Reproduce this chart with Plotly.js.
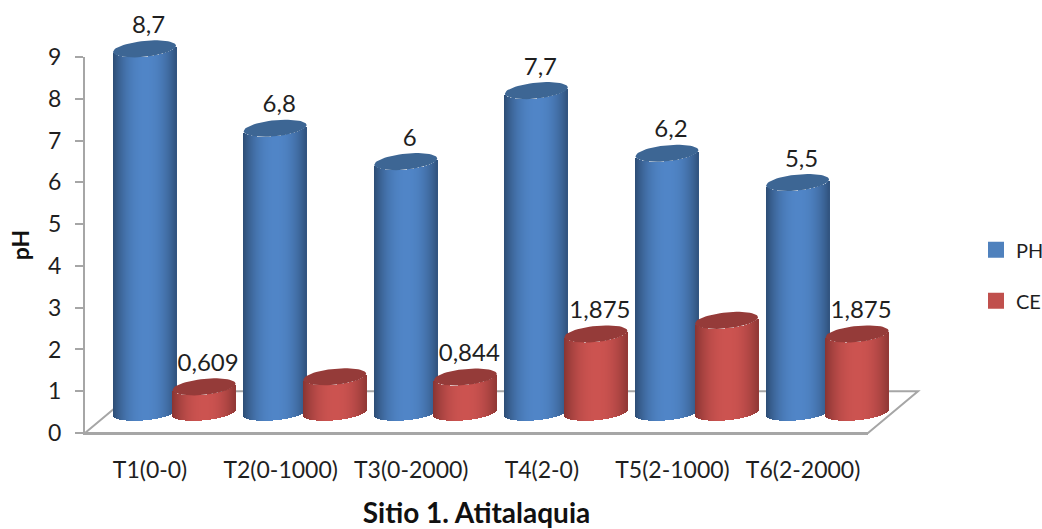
<!DOCTYPE html>
<html>
<head>
<meta charset="utf-8">
<script src="https://cdn.plot.ly/plotly-3.0.1.min.js"></script>
<style>html,body{margin:0;padding:0;background:#fff}</style>
</head>
<body>
<div id="chart" style="width:1042px;height:529px"></div>
<script>
// Soil pH and electrical conductivity by treatment
const categories = ['T1(0-0)', 'T2(0-1000)', 'T3(0-2000)', 'T4(2-0)', 'T5(2-1000)', 'T6(2-2000)'];
const phValues = [8.7, 6.8, 6, 7.7, 6.2, 5.5];
const ceValues = [0.609, 0.85, 0.844, 1.875, 2.2, 1.875];
const phLabelled = [true, true, true, true, true, true];
const ceLabelled = [true, false, true, true, false, true];
const yTicks = [0, 1, 2, 3, 4, 5, 6, 7, 8, 9];

// Frame in pixels. The visible axes span the inner box; the marks live on hidden
// axes with the same scale and a larger box, since the 3D effect overflows the axes.
const W = 1042, H = 529;
const M = {l: 85, r: 112, t: 10, b: 96.3, autoexpand: false};
const plotW = W - M.l - M.r, plotH = H - M.t - M.b;
const axisW = 783, axisH = 375.7;
const xRange = [-0.685, 5.31];
const yMax = 9;
const pxPerX = axisW / (xRange[1] - xRange[0]);
const pxPerY = axisH / yMax;
const markXRange = [xRange[0], xRange[0] + plotW / pxPerX];
const markYRange = [0, plotH / pxPerY];

// Cylinder geometry
const halfWidth = 31.5 / pxPerX;
const lift = 20.7 / pxPerY;        // floor depth: cylinders stand behind the front edge
const tilt = 3 / pxPerY;           // ellipse slant
const minor = 8 / pxPerY;          // ellipse half height
const strips = 63;
const seriesOffset = {ph: -0.229, ce: 0.227};

const hex = c => [1, 3, 5].map(i => parseInt(c.substr(i, 2), 16));
function mix(a, b, t) {
  const A = hex(a), B = hex(b);
  return 'rgb(' + A.map((v, i) => Math.round(v + (B[i] - v) * t)).join(',') + ')';
}

// One cylinder side, as a run of thin bars following the front arcs of both rims
function cylinderTrace(values, offset, light, dark, name) {
  const xs = [], bases = [], heights = [], colors = [], widths = [];
  values.forEach((v, i) => {
    for (let j = 0; j < strips; j++) {
      const u = (j + 0.5) / strips * 2 - 1;
      const arc = tilt * u - minor * Math.sqrt(1 - u * u);
      xs.push(i + offset + u * halfWidth);
      bases.push(lift + arc);
      heights.push(v);
      widths.push(2 * halfWidth / strips);
      colors.push(mix(light, dark, Math.pow(Math.abs(u - 0.03) / 1.03, 2.2)));
    }
  });
  return {
    type: 'bar', x: xs, y: heights, base: bases, width: widths, name: name,
    xaxis: 'x2', yaxis: 'y2', marker: {color: colors, line: {width: 0}},
    showlegend: false, hoverinfo: 'skip'
  };
}

// Top rims, one filled tilted ellipse per category
function rimTrace(values, offset, color) {
  const xs = [], ys = [];
  values.forEach((v, i) => {
    for (let d = 0; d <= 360; d += 6) {
      const t = d * Math.PI / 180;
      xs.push(i + offset + halfWidth * Math.cos(t));
      ys.push(v + lift + tilt * Math.cos(t) + minor * Math.sin(t));
    }
    xs.push(null); ys.push(null);
  });
  return {
    type: 'scatter', mode: 'lines', x: xs, y: ys, xaxis: 'x2', yaxis: 'y2',
    fill: 'toself', fillcolor: color, line: {width: 0, color: color},
    showlegend: false, hoverinfo: 'skip'
  };
}

function labelTrace(values, shown, offset) {
  const xs = [], ys = [], text = [];
  values.forEach((v, i) => {
    if (!shown[i]) return;
    xs.push(i + offset + 4 / pxPerX);
    ys.push(v + lift + 22 / pxPerY);
    text.push(String(v).replace('.', ','));
  });
  return {
    type: 'scatter', mode: 'text', x: xs, y: ys, text: text, textposition: 'middle center',
    xaxis: 'x2', yaxis: 'y2', textfont: {family: 'Lato', size: 24, color: '#1f1f1f'},
    showlegend: false, hoverinfo: 'skip'
  };
}

// Legend entries sit on the visible axes, which also keeps those axes drawn
function legendTrace(name, color) {
  return {
    type: 'scatter', mode: 'markers', x: [null], y: [null], name: name, legendgroup: name,
    marker: {symbol: 'square', size: 16, color: color}, hoverinfo: 'skip'
  };
}

const traces = [
  legendTrace('PH', '#4f81bd'),
  legendTrace('CE', '#c0504d'),
  cylinderTrace(phValues, seriesOffset.ph, '#5085c7', '#2c4c74', 'PH'),
  cylinderTrace(ceValues, seriesOffset.ce, '#cc5350', '#883432', 'CE'),
  rimTrace(phValues, seriesOffset.ph, '#3d6694'),
  rimTrace(ceValues, seriesOffset.ce, '#953b39'),
  labelTrace(phValues, phLabelled, seriesOffset.ph),
  labelTrace(ceValues, ceLabelled, seriesOffset.ce)
];

// Floor outline, in paper fractions
const fx = px => px / plotW, fy = py => py / plotH;
const floorPath = `M0,0 L${fx(50)},${fy(41.7)} L${fx(833)},${fy(41.7)} L${fx(783)},0 Z`;

const layout = {
  width: W, height: H, margin: M, paper_bgcolor: '#fff', plot_bgcolor: 'rgba(0,0,0,0)',
  barmode: 'overlay', bargap: 0,
  font: {family: 'Lato', color: '#1f1f1f'},
  shapes: [{type: 'path', xref: 'paper', yref: 'paper', path: floorPath, layer: 'below',
            fillcolor: '#fff', line: {color: '#a6a6a6', width: 2}}],
  xaxis: {
    domain: [0, axisW / plotW], anchor: 'y',
    range: xRange, tickmode: 'array', tickvals: categories.map((c, i) => i - 0.187),
    ticktext: categories, ticks: '', showgrid: false, zeroline: false,
    showline: true, linecolor: '#a6a6a6', linewidth: 2,
    tickfont: {family: 'Lato', size: 23, color: '#1f1f1f'}, ticklabelstandoff: 15,
    title: {text: '<b>Sitio 1. Atitalaquia</b>', standoff: 32, font: {family: 'Lato', size: 28, color: '#111'}}
  },
  yaxis: {
    domain: [0, axisH / plotH], anchor: 'x',
    range: [0, yMax], tickmode: 'array', tickvals: yTicks, ticks: 'outside', ticklen: 8, tickwidth: 2,
    tickcolor: '#a6a6a6', showgrid: false, zeroline: false,
    showline: true, linecolor: '#a6a6a6', linewidth: 2,
    tickfont: {family: 'Lato', size: 23, color: '#1f1f1f'}, ticklabelstandoff: 9,
    title: {text: '<b>pH</b>', standoff: 12, font: {family: 'Lato', size: 23, color: '#111'}}
  },
  xaxis2: {domain: [0, 1], anchor: 'y2', range: markXRange, visible: false},
  yaxis2: {domain: [0, 1], anchor: 'x2', range: markYRange, visible: false},
  legend: {
    x: 891 / plotW, y: (H - M.b - 275) / plotH, xanchor: 'left', yanchor: 'middle',
    font: {family: 'Lato', size: 20, color: '#1f1f1f'}, tracegroupgap: 22, bgcolor: 'rgba(0,0,0,0)',
    entrywidth: 30, entrywidthmode: 'pixels'
  }
};

Plotly.newPlot('chart', traces, layout, {displayModeBar: false, responsive: false});
</script>
</body>
</html>
